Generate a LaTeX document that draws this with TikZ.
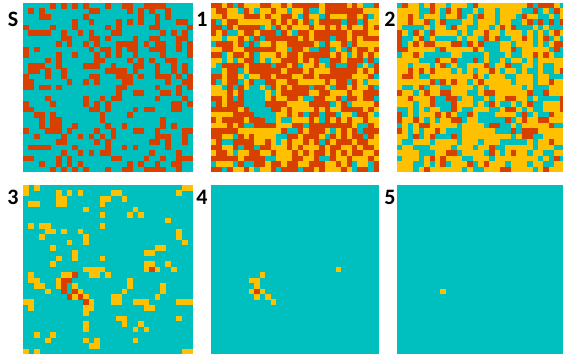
\documentclass[tikz,border=0pt]{standalone}
\usepackage{fontspec}
\setmainfont{Carlito}
\definecolor{gridteal}{HTML}{00BFBF}
\definecolor{gridred}{HTML}{D84000}
\definecolor{gridyel}{HTML}{FFC000}
\tikzset{
  panlbl/.style={font=\fontsize{22}{22}\selectfont\bfseries, inner sep=0pt},
  cell/.style={fill=#1}
}
% one square of the lattice, top left corner at (col,row)
\newcommand\gridcell[3]{\fill[cell=#1] (#2,#3) rectangle ++(1.03,1.03);}

\begin{document}
\begin{tikzpicture}[x=1pt, y=-1pt]
  \useasboundingbox (0,0) rectangle (563,360);

  % panel labels
  \node[panlbl] (labS) at (13,19) {S};
  \node[panlbl] (lab1) at (202,19) {1};
  \node[panlbl] (lab2) at (390,19) {2};
  \node[panlbl] (lab3) at (13,197) {3};
  \node[panlbl] (lab4) at (202,197) {4};
  \node[panlbl] (lab5) at (390,197) {5};

  % S: start lattice
  \begin{scope}[shift={(23,3)}, x=5.48pt, y=-5.45pt]
    \fill[gridteal] (0,0) rectangle (31,31);
    \foreach \cols [count=\r from 0] in {
      {5,7,9,11,15,18,19,22,23,24,25},{1,3,12,13,19,21,23,26},{3,4,11,21,24,26},
      {9,12,17,19,21,24,28,29},{0,5,9,15,17,23,24,30},{1,2,3,4,7,10,12,16,17,25,27,29},
      {7,8,12,13,15,20,23,24,28,29},{6,8,11,13,17,18,19,20,22,24,25,28,30},
      {0,2,12,14,15,17,19,20,23,24,25,28,30},{0,6,9,13,15,17,20,25,30},
      {4,6,13,14,19,21,23,26,27},{1,2,3,6,11,12,13,16,20,21,24,27,29},
      {1,2,4,7,15,16,17,18,20,24,27,29},{0,4,7,12,13,17,18,19,21,24,25,26,28,30},
      {0,1,8,11,13,18,19,26,29,30},{0,1,3,4,6,17,18,24,28,30},{17,20,21,25,26,28},
      {4,11,14,16,17,24,29},{0,5,11,13,15,27,28,30},{0,1,12,13,15,20,22,23,27,28},
      {2,3,5,14,19},{3,5,6,14,25},{3,5,6,9,15,18,25,27},
      {0,4,5,6,8,13,16,20,21,24,29,30},{2,7,10,12,14,16,24,25,26,29},
      {6,7,13,15,23,24,26,29},{1,2,3,4,9,15,18,20,26},{7,10,12,14,15,23,28},
      {0,1,6,8,16,17,22,25,28,29,30},{3,6,8,10,19,21,24,27,28},
      {5,7,9,11,15,18,19,22,23,24,25,28}}
      \foreach \c in \cols \gridcell{gridred}{\c}{\r};
  \end{scope}

  % 1
  \begin{scope}[shift={(211,3)}, x=5.42pt, y=-5.45pt]
    \pgfmathsetseed{11}
    \foreach \r in {0,...,30}
      \foreach \c in {0,...,30}{
        \pgfmathsetmacro\u{rnd}
        \ifdim\u pt<0.13pt\def\cc{gridteal}\else\ifdim\u pt<0.49pt\def\cc{gridyel}\else\def\cc{gridred}\fi\fi
        \gridcell{\cc}{\c}{\r}
      }
    \foreach \c/\r in {8/15,6/16,7/16,8/16,9/16,6/17,7/17,8/17,9/17,6/18,7/18,8/18,9/18,
      7/19,8/19,9/19,10/19,9/20,10/20,11/20,10/21,11/21}
      \gridcell{gridteal}{\c}{\r};
  \end{scope}

  % 2
  \begin{scope}[shift={(397,3)}, x=5.42pt, y=-5.45pt]
    \pgfmathsetseed{23}
    \foreach \r in {0,...,30}
      \foreach \c in {0,...,30}{
        \pgfmathsetmacro\u{rnd}
        \ifdim\u pt<0.33pt\def\cc{gridteal}\else\ifdim\u pt<0.47pt\def\cc{gridred}\else\def\cc{gridyel}\fi\fi
        \gridcell{\cc}{\c}{\r}
      }
    \foreach \c/\r in {7/17,8/17,7/18,8/18,9/18,8/19,9/19}
      \gridcell{gridteal}{\c}{\r};
    \foreach \c/\r in {8/16,9/16,6/17,9/17,10/18,10/19,7/20,9/20,10/21}
      \gridcell{gridred}{\c}{\r};
  \end{scope}

  % 3
  \begin{scope}[shift={(23,185)}, x=5.48pt, y=-5.45pt]
    \fill[gridteal] (0,0) rectangle (31,31);
    \foreach \c/\r in {0/0,2/0,29/0,30/0,0/1,6/1,8/1,10/1,16/1,17/1,28/1,6/2,7/2,14/2,15/2,18/2,
      1/3,2/3,6/3,7/3,14/3,11/4,20/4,14/5,19/5,21/5,26/6,1/7,3/7,4/7,14/7,4/8,5/8,7/8,10/8,28/8,
      3/9,11/9,28/9,8/10,11/10,29/10,5/11,24/11,25/11,9/12,22/12,23/12,6/13,9/13,14/13,
      5/14,22/14,23/14,26/14,11/15,12/15,13/15,14/15,22/15,24/15,27/15,1/16,7/16,8/16,12/16,
      13/16,15/16,1/17,2/17,6/17,19/17,2/18,3/18,6/18,9/18,19/18,25/18,4/19,10/19,18/19,25/19,
      9/20,11/20,16/20,17/20,24/20,0/21,1/21,12/21,16/21,17/21,20/21,21/21,22/21,28/21,29/21,
      30/21,1/22,11/22,12/22,22/22,23/22,11/23,17/24,18/24,28/24,11/25,18/25,21/25,11/26,
      20/26,22/26,2/27,5/27,4/28,11/28,13/28,20/28,12/29,13/29,0/30,2/30,29/30,30/30}
      \gridcell{gridyel}{\c}{\r};
    \foreach \c/\r in {9/16,7/17,8/17,7/18,7/19,9/19,8/20,10/20,11/21,23/15}
      \gridcell{gridred}{\c}{\r};
  \end{scope}

  % 4
  \begin{scope}[shift={(211,185)}, x=5.42pt, y=-5.45pt]
    \fill[gridteal] (0,0) rectangle (31,31);
    \foreach \c/\r in {9/16,7/17,8/17,8/18,7/19,9/19,8/20,10/20,11/21,23/15}
      \gridcell{gridyel}{\c}{\r};
    \gridcell{gridred}{8}{19}
  \end{scope}

  % 5
  \begin{scope}[shift={(397,185)}, x=5.42pt, y=-5.45pt]
    \fill[gridteal] (0,0) rectangle (31,31);
    \gridcell{gridyel}{8}{19}
  \end{scope}
\end{tikzpicture}
\end{document}
